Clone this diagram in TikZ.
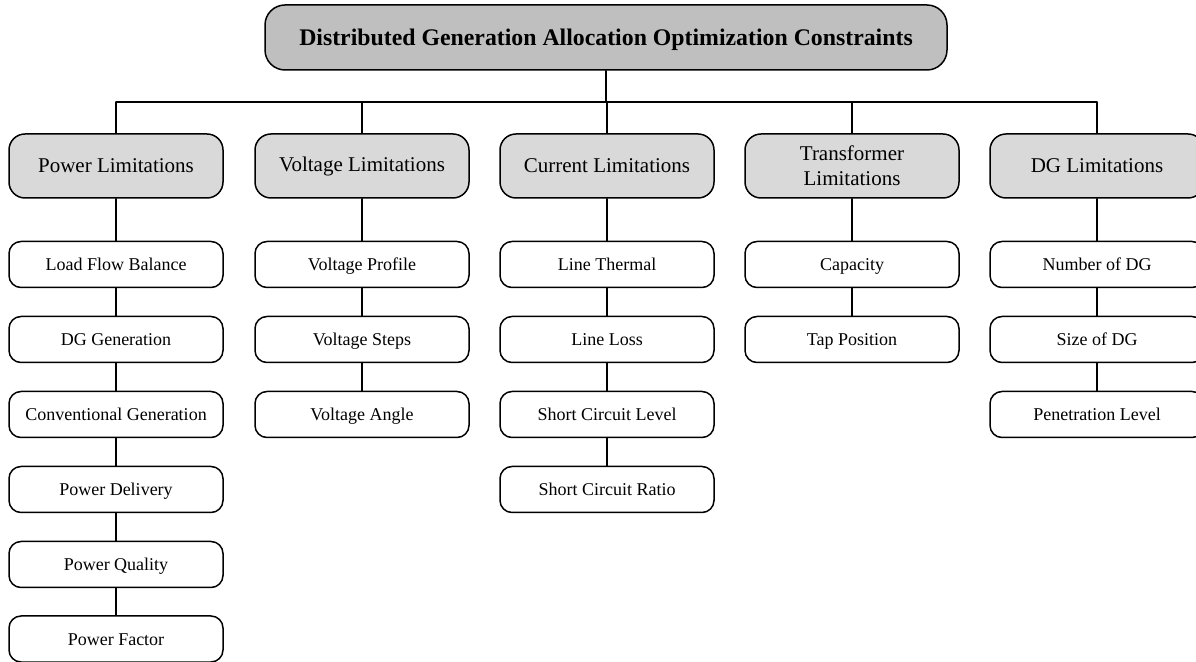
\documentclass[tikz,border=0pt]{standalone}
\usepackage{fontspec}
\setmainfont{Liberation Serif}
\begin{document}
\begin{tikzpicture}[line cap=round,line join=round,x=1pt,y=1pt]
\tikzstyle{mainbox}=[draw,line width=1.5pt,rounded corners=20pt,fill=gray!50,minimum width=682pt,minimum height=65pt,text height=19pt,text depth=3pt,font=\fontsize{23.8}{28}\selectfont\bfseries]
\tikzstyle{catbox}=[draw,line width=1.5pt,rounded corners=16pt,fill=gray!30,minimum width=214pt,minimum height=64pt,align=center,font=\fontsize{21}{25}\selectfont]
\tikzstyle{subbox}=[draw,line width=1.5pt,rounded corners=12pt,fill=white,minimum width=214pt,minimum height=46pt,text height=14.5pt,text depth=2.5pt,font=\fontsize{18}{22}\selectfont]
\tikzstyle{link}=[line width=1.2pt]
\clip (0,0) rectangle (1196,661);
% top
\node[mainbox] (top) at (606,623.5) {Distributed Generation Allocation Optimization Constraints};
\coordinate (bus) at (606,559);
% categories
\node[catbox] (pow) at (116,495) {Power Limitations};
\node[catbox] (volt) at (362,495) {Voltage Limitations};
\node[catbox] (curr) at (607,495) {Current Limitations};
\node[catbox] (trans) at (852,495) {Transformer\\Limitations};
\node[catbox] (dg) at (1097,495) {DG Limitations};
% power
\node[subbox] (pow1) at (116,396.5) {Load Flow Balance};
\node[subbox] (pow2) at (116,321.5) {DG Generation};
\node[subbox] (pow3) at (116,246.5) {Conventional Generation};
\node[subbox] (pow4) at (116,171.5) {Power Delivery};
\node[subbox] (pow5) at (116,96.5) {Power Quality};
\node[subbox] (pow6) at (116,22) {Power Factor};
% voltage
\node[subbox] (volt1) at (362,396.5) {Voltage Profile};
\node[subbox] (volt2) at (362,321.5) {Voltage Steps};
\node[subbox] (volt3) at (362,246.5) {Voltage Angle};
% current
\node[subbox] (curr1) at (607,396.5) {Line Thermal};
\node[subbox] (curr2) at (607,321.5) {Line Loss};
\node[subbox] (curr3) at (607,246.5) {Short Circuit Level};
\node[subbox] (curr4) at (607,171.5) {Short Circuit Ratio};
% transformer
\node[subbox] (trans1) at (852,396.5) {Capacity};
\node[subbox] (trans2) at (852,321.5) {Tap Position};
% dg
\node[subbox] (dg1) at (1097,396.5) {Number of DG};
\node[subbox] (dg2) at (1097,321.5) {Size of DG};
\node[subbox] (dg3) at (1097,246.5) {Penetration Level};
% links
\draw[link] (top.south) -- (bus);
\draw[link] (pow.north |- bus) -- (dg.north |- bus);
\draw[link] (pow.north |- bus) -- (pow.north);
\draw[link] (volt.north |- bus) -- (volt.north);
\draw[link] (curr.north |- bus) -- (curr.north);
\draw[link] (trans.north |- bus) -- (trans.north);
\draw[link] (dg.north |- bus) -- (dg.north);
\draw[link] (pow) -- (pow1) -- (pow2) -- (pow3) -- (pow4) -- (pow5) -- (pow6);
\draw[link] (volt) -- (volt1) -- (volt2) -- (volt3);
\draw[link] (curr) -- (curr1) -- (curr2) -- (curr3) -- (curr4);
\draw[link] (trans) -- (trans1) -- (trans2);
\draw[link] (dg) -- (dg1) -- (dg2) -- (dg3);
\end{tikzpicture}
\end{document}
